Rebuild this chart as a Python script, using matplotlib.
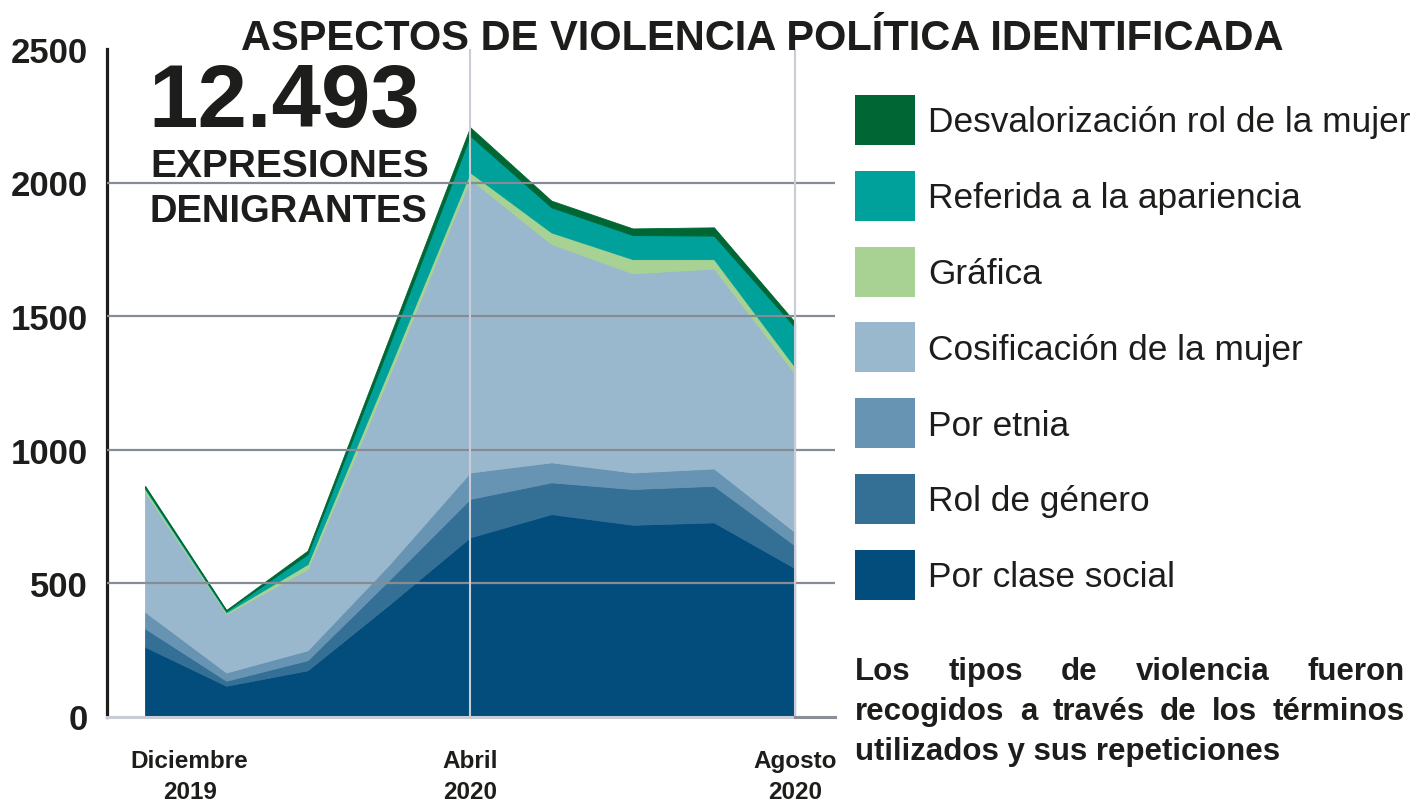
import numpy as np
import matplotlib
matplotlib.use('Agg')
import matplotlib.pyplot as plt
from matplotlib.patches import Rectangle

plt.rcParams['font.family'] = ['Liberation Sans', 'DejaVu Sans']

# data (months Dec 2019 - Aug 2020)
months = ['Dic 2019', 'Ene 2020', 'Feb 2020', 'Mar 2020', 'Abr 2020',
          'May 2020', 'Jun 2020', 'Jul 2020', 'Ago 2020']
clase_social = [261, 115, 173, 418, 671, 758, 718, 727, 555]
rol_genero = [69, 19, 38, 92, 144, 119, 134, 137, 85]
etnia = [62, 31, 37, 58, 99, 75, 62, 65, 50]
cosificacion = [448, 219, 304, 705, 1099, 818, 746, 749, 593]
grafica = [12, 6, 19, 27, 25, 43, 53, 35, 25]
apariencia = [5, 5, 37, 88, 137, 94, 90, 88, 149]
desvalorizacion = [7, 4, 13, 26, 32, 25, 25, 31, 19]

labels = ['Por clase social', 'Rol de género', 'Por etnia',
          'Cosificación de la mujer', 'Gráfica',
          'Referida a la apariencia', 'Desvalorización rol de la mujer']
colors = ['#024D7C', '#346F96', '#6894B3', '#9AB8CD', '#A8D293',
          '#00A19B', '#006633']

tick_pos = [0, 4, 8]
tick_labels = ['Diciembre\n2019', 'Abril\n2020', 'Agosto\n2020']
yticks = [0, 500, 1000, 1500, 2000, 2500]

ink = '#1D1D1B'
W, H = 1415, 803
fig = plt.figure(figsize=(W / 100, H / 100), dpi=100)
ax = fig.add_axes([107 / W, 1 - 717.5 / H, 728 / W, 667.5 / H])

x = np.arange(len(months))
polys = ax.stackplot(x, clase_social, rol_genero, etnia, cosificacion,
                     grafica, apariencia, desvalorizacion,
                     colors=colors, lw=0.6, zorder=1)
for p, c in zip(polys, colors):
    p.set_edgecolor(c)

ax.set_xlim(-0.468, 8.49)
ax.set_ylim(0, 2500)

# grid lines on top of the areas
for yv in yticks[1:-1]:
    ax.axhline(yv, color='#868B94', lw=1.6, zorder=3)
for xv in [4, 8]:
    ax.axvline(xv, color='#C9CCD4', lw=1.5, zorder=3)
ax.plot([-0.468, 8], [0, 0], color='#C9CCD4', lw=2.2, zorder=4, clip_on=False)
ax.plot([8, 8.49], [0, 0], color='#8A8F97', lw=2.2, zorder=4, clip_on=False)

for s in ['top', 'right', 'bottom']:
    ax.spines[s].set_visible(False)
ax.spines['left'].set_color(ink)
ax.spines['left'].set_linewidth(2.3)

ax.set_yticks(yticks)
ax.set_yticklabels([str(v) for v in yticks], fontsize=25, fontweight='bold', color=ink)
ax.tick_params(axis='y', length=0, pad=14)
ax.set_xticks([])

xoff = [0.55, 0, 0]
for p, lab, dx in zip(tick_pos, tick_labels, xoff):
    ax.text(p + dx, -0.048, lab, transform=ax.get_xaxis_transform(),
            ha='center', va='top', fontsize=17.5, fontweight='bold',
            color=ink, linespacing=1.45)

# title and headline texts
fig.text(762 / W, 1 - 50 / H, 'ASPECTOS DE VIOLENCIA POLÍTICA IDENTIFICADA',
         ha='center', va='baseline', fontsize=30, fontweight='bold', color=ink)
fig.text(148 / W, 1 - 127 / H, '12.493', ha='left', va='baseline',
         fontsize=64, fontweight='bold', color=ink)
fig.text(150 / W, 1 - 177 / H, 'EXPRESIONES', ha='left', va='baseline',
         fontsize=28, fontweight='bold', color=ink)
fig.text(150 / W, 1 - 222 / H, 'DENIGRANTES', ha='left', va='baseline',
         fontsize=27.5, fontweight='bold', color=ink)

# legend (top to bottom = top to bottom of the stack)
for i, (lab, c) in enumerate(zip(labels[::-1], colors[::-1])):
    top = 96 + i * 75.8
    fig.add_artist(Rectangle((855 / W, 1 - (top + 50) / H), 60 / W, 50 / H,
                             transform=fig.transFigure, facecolor=c,
                             edgecolor='none'))
    fig.text(928 / W, 1 - (top + 27) / H, lab, ha='left', va='center',
             fontsize=25.4, color=ink)

# justified note
note = ['Los tipos de violencia fueron',
        'recogidos a través de los términos',
        'utilizados y sus repeticiones']
renderer = fig.canvas.get_renderer()
for i, line in enumerate(note):
    yb = 1 - (680 + i * 40) / H
    words = line.split()
    arts = [fig.text(855 / W, yb, w, ha='left', va='baseline', fontsize=22.5,
                     fontweight='bold', color=ink) for w in words]
    if i < len(note) - 1:
        widths = [a.get_window_extent(renderer).width for a in arts]
        gap = (1405 - 855 - sum(widths)) / (len(words) - 1)
        pos = 855
        for a, w in zip(arts, widths):
            a.set_x(pos / W)
            pos += w + gap
    else:
        arts[0].set_text(line)
        for a in arts[1:]:
            a.remove()

fig.savefig('out.png', dpi=100)
